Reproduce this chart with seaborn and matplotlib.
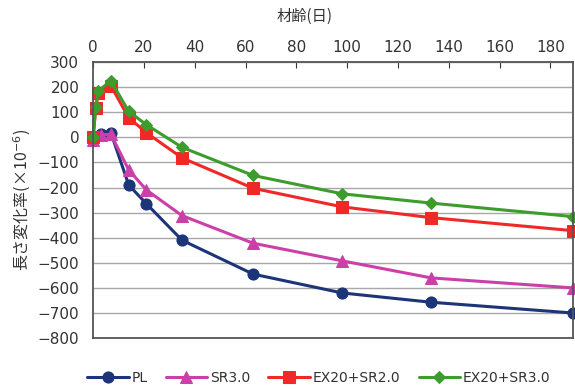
import pandas as pd
import matplotlib
matplotlib.use("Agg")
import matplotlib.pyplot as plt
import seaborn as sns

# 材齢 (days)
ages_plain = [0, 3, 7, 14, 21, 35, 63, 98, 133, 189]
ages_ex = [0, 1, 2, 7, 14, 21, 35, 63, 98, 133, 189]

# 長さ変化率 (x10^-6)
pl = [-5, 15, 18, -190, -265, -410, -545, -620, -657, -700]
sr30 = [-10, 10, 12, -130, -210, -312, -422, -492, -560, -600]
ex_sr20 = [0, 115, 175, 205, 78, 18, -82, -203, -277, -320, -372]
ex_sr30 = [0, 120, 185, 225, 103, 50, -40, -152, -225, -262, -316]

series_names = ["PL", "SR3.0", "EX20+SR2.0", "EX20+SR3.0"]
colors = ["#1c3478", "#cc3fa8", "#f02828", "#3c9c2c"]
markers = ["o", "^", "s", "D"]

frames = []
for name, ages, vals in [("PL", ages_plain, pl), ("SR3.0", ages_plain, sr30),
                         ("EX20+SR2.0", ages_ex, ex_sr20), ("EX20+SR3.0", ages_ex, ex_sr30)]:
    frames.append(pd.DataFrame({"age": ages, "value": vals, "series": name}))
df = pd.concat(frames, ignore_index=True)

sns.set_style("white")
plt.rcParams["font.family"] = ["DejaVu Sans", "Noto Sans CJK JP"]

fig = plt.figure(figsize=(5.75, 3.9), dpi=100)
ax = fig.add_axes([0.162, 0.133, 0.835, 0.708])

sizes = {"PL": 8, "SR3.0": 8, "EX20+SR2.0": 8, "EX20+SR3.0": 6}
for name, col, mk in zip(series_names, colors, markers):
    sub = df[df["series"] == name]
    sns.lineplot(data=sub, x="age", y="value", ax=ax, color=col, marker=mk,
                 markersize=sizes[name], markeredgecolor=col, linewidth=2.2,
                 label=name, clip_on=False)

ax.set_xlim(0, 189)
ax.set_ylim(-800, 300)
ax.set_xticks(range(0, 181, 20))
ax.set_yticks(range(-800, 301, 100))
ax.xaxis.tick_top()
ax.xaxis.set_label_position("top")
ax.tick_params(axis="x", direction="in", length=4, top=True, bottom=False,
               labelsize=11, colors="#333333", pad=5)
ax.tick_params(axis="y", direction="in", length=0, labelsize=11, colors="#333333", pad=10)
ax.set_xlabel("材齢(日)", fontsize=11, color="#333333",
              family=["Noto Sans CJK JP", "DejaVu Sans"])
ax.set_ylabel("長さ変化率(×10$^{-6}$)", fontsize=11.5, color="#333333",
              family=["Noto Sans CJK JP", "DejaVu Sans"])
ax.xaxis.set_label_coords(0.44, 1.15)
ax.yaxis.set_label_coords(-0.125, 0.5)

ax.yaxis.grid(True, color="#a8a8a8", linewidth=1.0)
ax.set_axisbelow(True)
for sp in ax.spines.values():
    sp.set_color("#555555")
    sp.set_linewidth(1.3)

ax.legend(loc="upper center", bbox_to_anchor=(0.47, -0.075), ncol=4, frameon=False,
          fontsize=10, handlelength=3.0, columnspacing=1.3, handletextpad=0.2,
          labelcolor="#333333")

fig.savefig("out.png", dpi=100)
